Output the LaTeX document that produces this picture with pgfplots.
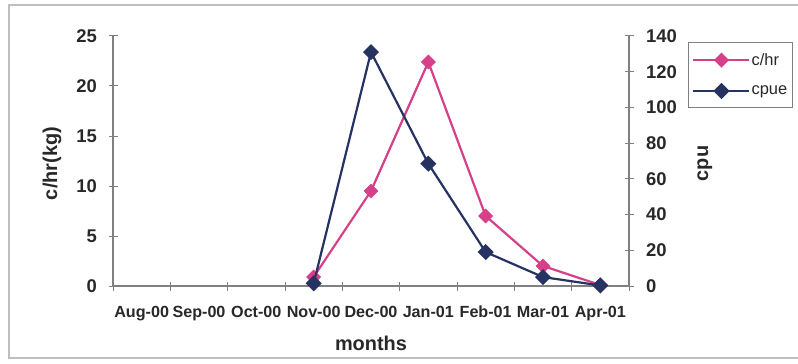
\documentclass[border=0pt]{standalone}
\usepackage{pgfplots}
\pgfplotsset{compat=1.18}
\usepackage{fontspec}
\setmainfont{Liberation Sans}

\definecolor{chr}{RGB}{214,64,136}
\definecolor{cpue}{RGB}{38,50,98}
\definecolor{axgray}{RGB}{128,128,128}
\definecolor{framegray}{RGB}{190,190,190}
\definecolor{txt}{RGB}{40,40,40}

% one style shared by both axes, sizes in bp so 1bp = 1px of the reference
\pgfplotsset{
  base/.style={
    scale only axis, width=516bp, height=250bp,
    at={(113bp,77bp)}, anchor=south west,
    xmin=-0.5, xmax=8.5, ymin=0,
    axis line style={axgray, line width=1.2bp},
    tick style={axgray, line width=1bp},
    tick align=center, major tick length=9bp,
    /pgf/number format/assume math mode=true,
    ticklabel style={font=\bfseries\fontsize{18.5}{18.5}\selectfont, text=txt},
    label style={font=\bfseries\fontsize{20}{20}\selectfont, text=txt},
  },
  chrline/.style={chr, line width=2.2bp, mark=square*, mark size=4.2bp, mark options={rotate=45, solid}},
  cpueline/.style={cpue, line width=2.2bp, mark=square*, mark size=4.6bp, mark options={rotate=45, solid}},
}

\begin{document}
\begin{tikzpicture}[x=1bp,y=1bp]
\useasboundingbox (0,0) rectangle (798,363);
\draw[framegray, line width=1.5bp] (800,358) -- (9,358) -- (9,5) -- (800,5);

\begin{axis}[base,
  ymax=25, ytick={0,5,...,25},
  axis x line*=bottom, axis y line*=left,
  xtick={-0.5,0.5,...,8.5},
  x tick label as interval,
  xticklabels={Aug-00,Sep-00,Oct-00,Nov-00,Dec-00,Jan-01,Feb-01,Mar-01,Apr-01},
  xticklabel style={font=\bfseries\fontsize{16.2}{16.2}\selectfont, yshift=-12bp},
  yticklabel style={xshift=-8bp},
  xlabel={months},
  xlabel style={at={(axis description cs:0.5,-0.228)}, anchor=center},
  ylabel={c/hr(kg)},
  ylabel style={at={(axis description cs:-0.118,0.49)}, anchor=center},
]
\addplot[chrline] coordinates {(3,0.9)(4,9.5)(5,22.4)(6,7.0)(7,2.0)(8,0.1)};
\end{axis}

\begin{axis}[base,
  ymax=140, ytick={0,20,...,140},
  axis x line=none, axis y line*=right,
  yticklabel style={xshift=9bp},
  ylabel={cpu},
  ylabel style={at={(axis description cs:1.147,0.49)}, anchor=center},
  legend style={at={(1.1143,0.976)}, anchor=north west, draw=axgray,
    line width=0.8bp, font=\fontsize{16.5}{16.5}\selectfont,
    inner xsep=4bp, inner ysep=9bp, row sep=15bp,
    nodes={inner xsep=1bp, text=txt}},
  legend cell align=left,
  legend image code/.code={\draw[mark repeat=2, mark phase=2, #1]
    plot coordinates {(0bp,0bp) (28bp,0bp) (56bp,0bp)};},
]
\addlegendimage{chrline}
\addlegendentry{c/hr}
\addplot[cpueline] coordinates {(3,1.5)(4,131)(5,68.5)(6,19)(7,5)(8,0.3)};
\addlegendentry{cpue}
\end{axis}
\end{tikzpicture}
\end{document}
